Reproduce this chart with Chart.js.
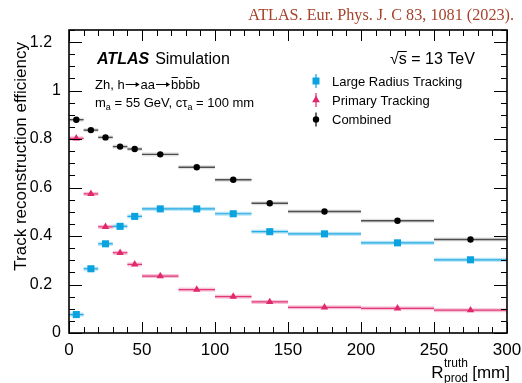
<!DOCTYPE html>
<html>
<head>
<meta charset="utf-8">
<script src="https://cdn.jsdelivr.net/npm/chart.js@4.4.1/dist/chart.umd.min.js"></script>
<style>
html,body{margin:0;padding:0;background:#fff;}
canvas{display:block;}
</style>
</head>
<body>
<canvas id="c" width="522" height="383"></canvas>
<script>
// ---- data ----
const binEdges = [0, 10, 20, 30, 40, 50, 75, 100, 125, 150, 200, 250, 300];
const largeRadius = [0.076, 0.265, 0.368, 0.440, 0.481, 0.512, 0.512, 0.492, 0.418, 0.409, 0.372, 0.302];
const primary     = [0.803, 0.574, 0.438, 0.331, 0.283, 0.235, 0.179, 0.150, 0.128, 0.106, 0.102, 0.094];
const combined    = [0.880, 0.837, 0.807, 0.769, 0.759, 0.737, 0.684, 0.632, 0.535, 0.501, 0.463, 0.386];
const seriesNames = ['Large Radius Tracking', 'Primary Tracking', 'Combined'];
const xTickValues = [0, 50, 100, 150, 200, 250, 300];
const yTickValues = [0, 0.2, 0.4, 0.6, 0.8, 1.0, 1.2];
const yTickLabels = ['0', '0.2', '0.4', '0.6', '0.8', '1', '1.2'];

const FONT = "'Liberation Sans', Arial, Helvetica, sans-serif";
const BLUE = '#0aa2df', PINK = '#e0296d', BLACK = '#000000';

function toPoints(vals) {
  return vals.map((v, i) => ({
    x: (binEdges[i] + binEdges[i + 1]) / 2, y: v,
    xMin: binEdges[i], xMax: binEdges[i + 1]
  }));
}

const bandStyle = [
  {band: 'rgba(10,162,223,0.30)', line: 'rgba(10,162,223,0.85)', lw: 1.2},
  {band: 'rgba(224,41,109,0.28)', line: 'rgba(224,41,109,0.9)', lw: 1.2},
  {band: 'rgba(0,0,0,0.12)', line: 'rgba(70,70,70,0.95)', lw: 1.4}
];

const atlasPlugin = {
  id: 'atlasPlugin',
  beforeDatasetsDraw(chart) {
    const ctx = chart.ctx, xs = chart.scales.x, ys = chart.scales.y;
    ctx.save();
    chart.data.datasets.forEach((ds, di) => {
      const st = bandStyle[di];
      ds.data.forEach(p => {
        const x1 = xs.getPixelForValue(p.xMin), x2 = xs.getPixelForValue(p.xMax);
        const y = ys.getPixelForValue(p.y);
        ctx.fillStyle = st.band;
        ctx.fillRect(x1, y - 2, x2 - x1, 4);
        ctx.strokeStyle = st.line; ctx.lineWidth = st.lw;
        ctx.beginPath(); ctx.moveTo(x1, y); ctx.lineTo(x2, y); ctx.stroke();
      });
    });
    ctx.restore();
  },
  afterDraw(chart) {
    const ctx = chart.ctx, xs = chart.scales.x, ys = chart.scales.y;
    const {left, right, top, bottom} = chart.chartArea;
    ctx.save();
    // ticks
    ctx.strokeStyle = '#000'; ctx.lineWidth = 1;
    const line = (a, b, c, d) => { ctx.beginPath(); ctx.moveTo(a, b); ctx.lineTo(c, d); ctx.stroke(); };
    for (let k = 0; k <= 30; k++) {
      const v = k * 10, px = Math.round(xs.getPixelForValue(v)) + 0.5;
      const L = (k % 5 === 0) ? 11 : 6;
      line(px, bottom, px, bottom - L); line(px, top, px, top + L);
    }
    for (let k = 0; k <= 25; k++) {
      const v = k * 0.05, py = Math.round(ys.getPixelForValue(v)) + 0.5;
      const L = (k % 4 === 0) ? 13 : 6;
      line(left, py, left + L, py); line(right, py, right - L, py);
    }
    // frame
    ctx.lineWidth = 1.6; ctx.strokeStyle = '#000';
    ctx.strokeRect(left, top, right - left, bottom - top);

    ctx.fillStyle = '#000'; ctx.textBaseline = 'alphabetic'; ctx.textAlign = 'left';
    const txt = (s, x, y, f) => { ctx.font = f; ctx.fillText(s, x, y); return ctx.measureText(s).width; };
    const over = (x1, x2, y) => { ctx.lineWidth = 1; ctx.strokeStyle = '#000'; line(x1, y, x2, y); };
    const arrow = (x, y) => {
      const L = 15;
      ctx.lineWidth = 1; ctx.strokeStyle = '#000';
      line(x + 1, y, x + L - 1, y);
      ctx.beginPath(); ctx.moveTo(x + L, y); ctx.lineTo(x + L - 4, y - 2.6); ctx.lineTo(x + L - 4, y + 2.6); ctx.closePath(); ctx.fill();
      return L + 1;
    };

    // header reference
    ctx.font = "16px 'Liberation Serif', 'DejaVu Serif', serif";
    const w16 = ctx.measureText('ATLAS. Eur. Phys. J. C 83, 1081 (2023).').width;
    const fs = 16 * 266 / w16;
    ctx.font = fs.toFixed(2) + "px 'Liberation Serif', 'DejaVu Serif', serif";
    ctx.fillStyle = '#a6432b'; ctx.textAlign = 'right';
    ctx.fillText('ATLAS. Eur. Phys. J. C 83, 1081 (2023).', 514, 20);
    ctx.textAlign = 'left'; ctx.fillStyle = '#000';

    // ATLAS Simulation
    let x = 97;
    x += txt('ATLAS', x, 64, 'italic bold 16px ' + FONT);
    txt('Simulation', x + 6, 64, '16px ' + FONT);

    // process line
    const f13 = '13px ' + FONT, f9 = '9px ' + FONT;
    x = 95;
    x += txt('Zh, h', x, 89, f13);
    x += arrow(x, 84.5);
    x += txt('aa', x, 89, f13);
    x += arrow(x, 84.5);
    ['b', 'b', 'b', 'b'].forEach((c, i) => {
      const w = txt(c, x, 89, f13);
      if (i % 2 === 0) over(x + 0.5, x + w - 0.5, 77.5);
      x += w;
    });
    // mass line
    x = 95;
    x += txt('m', x, 107, f13);
    x += txt('a', x, 110, f9);
    x += txt(' = 55 GeV, c\u03c4', x, 107, f13);
    x += txt('a', x, 110, f9);
    txt(' = 100 mm', x, 107, f13);

    // sqrt(s)
    x = 390;
    const f16 = '16px ' + FONT;
    x += txt('\u221a', x, 64, f16);
    const ws = txt('s', x, 64, f16);
    over(x - 1, x + ws, 51.5);
    x += ws;
    txt(' = 13 TeV', x, 64, f16);

    // legend
    const legY = [81, 100, 119.5];
    const mx = 316;
    const cols = [BLUE, PINK, BLACK];
    legY.forEach((y, i) => {
      ctx.strokeStyle = cols[i]; ctx.fillStyle = cols[i]; ctx.lineWidth = 1.2;
      line(mx, y - 7, mx, y + 7);
      ctx.beginPath();
      if (i === 0) { ctx.rect(mx - 3.5, y - 3.5, 7, 7); }
      else if (i === 1) { ctx.moveTo(mx, y - 4.5); ctx.lineTo(mx + 3.9, y + 2.3); ctx.lineTo(mx - 3.9, y + 2.3); ctx.closePath(); }
      else { ctx.arc(mx, y, 3.2, 0, Math.PI * 2); }
      ctx.fill();
      ctx.fillStyle = '#000';
      txt(seriesNames[i], 332, y + 4.8, f13);
    });

    // y title
    ctx.save();
    ctx.translate(26, 42);
    ctx.rotate(-Math.PI / 2);
    ctx.textAlign = 'right'; ctx.fillStyle = '#000';
    ctx.font = '17px ' + FONT;
    ctx.fillText('Track reconstruction efficiency', 0, 0);
    ctx.restore();

    // x title (right aligned)
    const f17 = '17px ' + FONT, f12 = '12px ' + FONT;
    ctx.font = f17; const wR = ctx.measureText('R').width, wMM = ctx.measureText(' [mm]').width;
    ctx.font = f12; const wSup = Math.max(ctx.measureText('truth').width, ctx.measureText('prod').width);
    let xr = 510 - wMM - wSup - wR;
    txt('R', xr, 378, f17); xr += wR + 0.5;
    txt('truth', xr, 367, f12);
    txt('prod', xr, 382, f12);
    xr += wSup;
    txt(' [mm]', xr - 0.5, 378, f17);

    ctx.restore();
  }
};

const chart = new Chart(document.getElementById('c'), {
  type: 'scatter',
  data: {
    datasets: [
      {label: seriesNames[0], data: toPoints(largeRadius), pointStyle: 'rect', pointRadius: 5,
       backgroundColor: BLUE, borderColor: BLUE, borderWidth: 0, order: 1},
      {label: seriesNames[1], data: toPoints(primary), pointStyle: 'triangle', pointRadius: 4.3,
       backgroundColor: PINK, borderColor: PINK, borderWidth: 0, order: 2},
      {label: seriesNames[2], data: toPoints(combined), pointStyle: 'circle', pointRadius: 3.2,
       backgroundColor: BLACK, borderColor: BLACK, borderWidth: 0, order: 0}
    ]
  },
  options: {
    responsive: false, animation: false, devicePixelRatio: 1,
    layout: {padding: {top: 30, right: 15, bottom: 0, left: 0}},
    plugins: {legend: {display: false}, tooltip: {enabled: false}, title: {display: false}},
    scales: {
      x: {
        type: 'linear', min: 0, max: 300,
        grid: {display: false, drawTicks: false, tickLength: 0}, border: {display: false},
        afterBuildTicks: s => { s.ticks = xTickValues.map(v => ({value: v})); },
        afterFit: s => { s.height = 50; s.paddingLeft = 0; s.paddingRight = 0; },
        ticks: {color: '#000', font: {family: FONT, size: 17}, padding: 7, maxRotation: 0,
                autoSkip: false, callback: v => String(v)}
      },
      y: {
        type: 'linear', min: 0, max: 1.25,
        grid: {display: false, drawTicks: false, tickLength: 0}, border: {display: false},
        afterBuildTicks: s => { s.ticks = yTickValues.map(v => ({value: v})); },
        afterFit: s => { s.width = 69; s.paddingTop = 0; s.paddingBottom = 0; },
        ticks: {color: '#000', font: {family: FONT, size: 16}, padding: 8, autoSkip: false,
                callback: v => {
                  const i = yTickValues.findIndex(t => Math.abs(t - v) < 1e-6);
                  const lab = i >= 0 ? yTickLabels[i] : String(v);
                  return lab.indexOf('.') >= 0 ? lab + '  ' : lab;
                }}
      }
    }
  },
  plugins: [atlasPlugin]
});
</script>
</body>
</html>
